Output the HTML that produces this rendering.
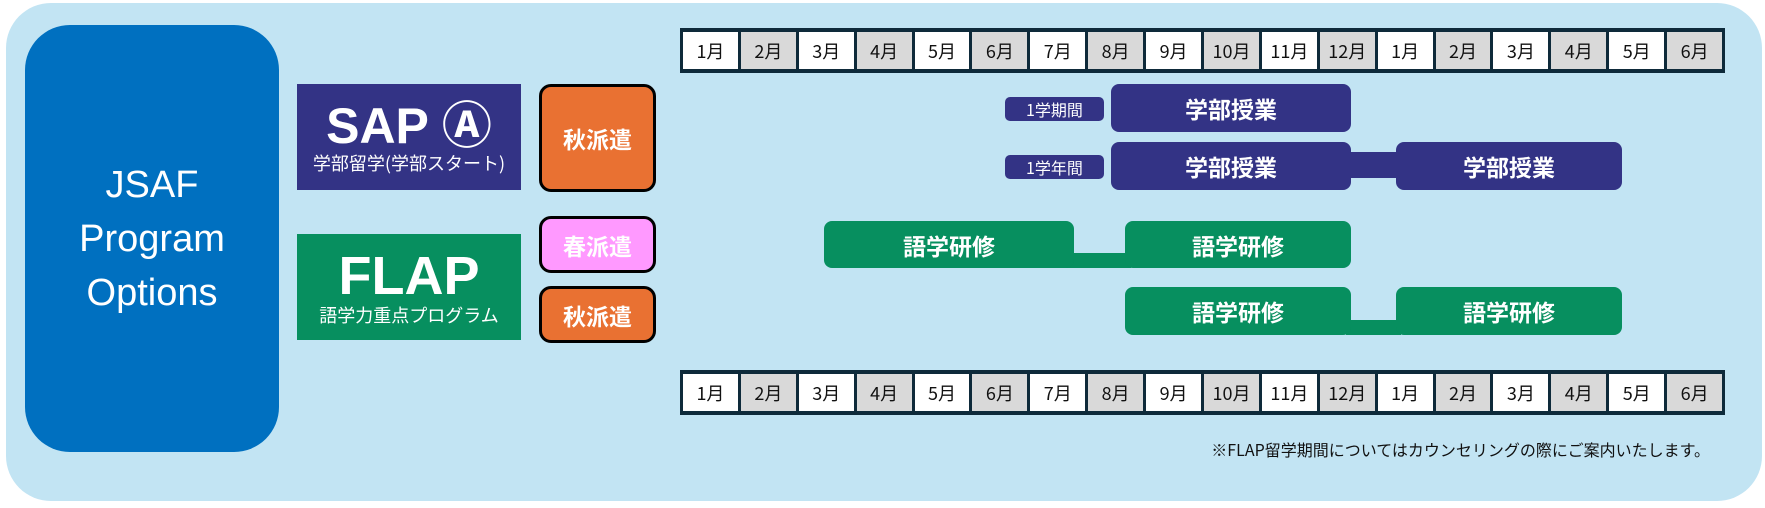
<!DOCTYPE html>
<html><head><meta charset="utf-8"><style>
*{margin:0;padding:0;box-sizing:border-box}
body{width:1765px;height:508px;background:#fff;position:relative;overflow:hidden;font-family:"Liberation Sans","Noto Sans CJK JP",sans-serif}
.a{position:absolute;display:flex;align-items:center;justify-content:center;color:#fff}
.bg{position:absolute;left:6px;top:3px;width:1756px;height:498px;background:#c2e4f3;border-radius:45px}
.mon{position:absolute;left:680px;width:1045px;height:45px;background:#0e2a3a;display:flex;padding:4px 3px;gap:3px}
.mon div{flex:1;background:#fff;display:flex;align-items:center;justify-content:center;font-size:18px;color:#111;font-family:"Noto Sans CJK JP",sans-serif}
.mon div:nth-child(even){background:#d9d9d9}
.b{font-weight:bold;font-size:23px;font-family:"Noto Sans CJK JP",sans-serif;border-radius:8px}
.p{background:#333385}.g{background:#078f5f}
.t{border:3px solid #000;border-radius:12px;font-weight:bold;font-size:23px;font-family:"Noto Sans CJK JP",sans-serif}
.l{font-size:16px;border-radius:5px;background:#333385;font-family:"Noto Sans CJK JP",sans-serif}
</style></head><body>
<div class="bg"></div>
<div class="a" style="left:25px;top:25px;width:254px;height:427px;background:#0070c0;border-radius:45px;font-size:38px;line-height:54px;text-align:center">JSAF<br>Program<br>Options</div>
<div class="a" style="left:297px;top:84px;width:224px;height:106px;background:#333385;flex-direction:column"><div style="font-size:50px;font-weight:bold;line-height:52px">SAP Ⓐ</div><div style="font-size:18px;font-family:'Noto Sans CJK JP',sans-serif;line-height:22px">学部留学(学部スタート)</div></div>
<div class="a" style="left:297px;top:234px;width:224px;height:106px;background:#078f5f;flex-direction:column"><div style="font-size:54px;font-weight:bold;line-height:56px">FLAP</div><div style="font-size:18px;font-family:'Noto Sans CJK JP',sans-serif;line-height:22px">語学力重点プログラム</div></div>
<div class="a t" style="left:539px;top:84px;width:117px;height:108px;background:#e97132">秋派遣</div>
<div class="a t" style="left:539px;top:216px;width:117px;height:57px;background:#ff99ff">春派遣</div>
<div class="a t" style="left:539px;top:286px;width:117px;height:57px;background:#e97132">秋派遣</div>
<div class="mon" style="top:28px"><div>1月</div><div>2月</div><div>3月</div><div>4月</div><div>5月</div><div>6月</div><div>7月</div><div>8月</div><div>9月</div><div>10月</div><div>11月</div><div>12月</div><div>1月</div><div>2月</div><div>3月</div><div>4月</div><div>5月</div><div>6月</div></div>
<div class="mon" style="top:370px"><div>1月</div><div>2月</div><div>3月</div><div>4月</div><div>5月</div><div>6月</div><div>7月</div><div>8月</div><div>9月</div><div>10月</div><div>11月</div><div>12月</div><div>1月</div><div>2月</div><div>3月</div><div>4月</div><div>5月</div><div>6月</div></div>
<div class="a l" style="left:1005px;top:97px;width:99px;height:24px">1学期間</div>
<div class="a b p" style="left:1111px;top:84px;width:240px;height:48px">学部授業</div>
<div class="a l" style="left:1005px;top:155px;width:99px;height:24px">1学年間</div>
<div class="p" style="position:absolute;left:1346px;top:152px;width:55px;height:26px"></div>
<div class="a b p" style="left:1111px;top:142px;width:240px;height:48px">学部授業</div>
<div class="a b p" style="left:1396px;top:142px;width:226px;height:48px">学部授業</div>
<div class="g" style="position:absolute;left:1066px;top:253px;width:65px;height:15px"></div>
<div class="a b g" style="left:824px;top:221px;width:250px;height:47px">語学研修</div>
<div class="a b g" style="left:1125px;top:221px;width:226px;height:47px">語学研修</div>
<div class="g" style="position:absolute;left:1346px;top:320px;width:55px;height:15px"></div>
<div class="a b g" style="left:1125px;top:287px;width:226px;height:48px">語学研修</div>
<div class="a b g" style="left:1396px;top:287px;width:226px;height:48px">語学研修</div>
<div style="position:absolute;left:1180px;top:437px;width:530px;text-align:right;font-size:16px;color:#111;font-family:'Noto Sans CJK JP',sans-serif">※FLAP留学期間についてはカウンセリングの際にご案内いたします。</div>
</body></html>
